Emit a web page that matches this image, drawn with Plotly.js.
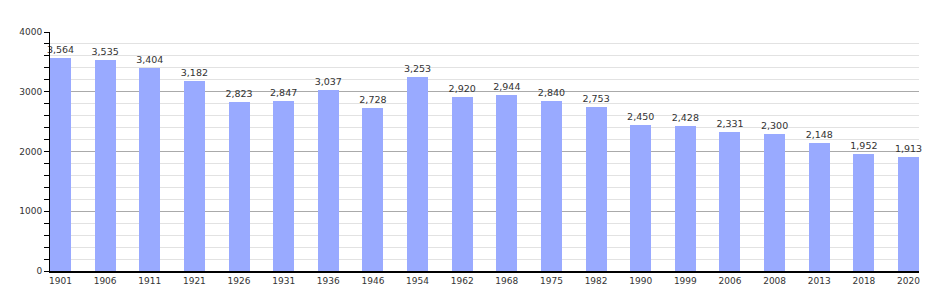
<!DOCTYPE html>
<html><head><meta charset="utf-8">
<script src="https://cdn.plot.ly/plotly-3.0.1.min.js"></script>
<style>body{margin:0;background:#fff}#c{width:950px;height:300px}</style>
</head><body><div id="c"></div>
<script>
const years = ["1901","1906","1911","1921","1926","1931","1936","1946","1954","1962","1968","1975","1982","1990","1999","2006","2008","2013","2018","2020"];
const population = [3564,3535,3404,3182,2823,2847,3037,2728,3253,2920,2944,2840,2753,2450,2428,2331,2300,2148,1952,1913];
const yTicks = [0,1000,2000,3000,4000];

const trace = {
  type: 'bar', x: years, y: population, width: 0.47,
  marker: {color: '#99aaff'},
  text: population.map(v => v.toLocaleString('en-US')),
  textposition: 'outside', cliponaxis: false, constraintext: 'none',
  textfont: {family: 'DejaVu Sans', size: 9.5, color: '#333'},
  hoverinfo: 'x+y'
};
const layout = {
  width: 950, height: 300,
  margin: {l: 50, r: 31, t: 32, b: 29},
  paper_bgcolor: '#fff', plot_bgcolor: '#fff',
  showlegend: false, bargap: 0,
  font: {family: 'DejaVu Sans', size: 9, color: '#333'},
  xaxis: {type: 'category', range: [-0.235, 19.235], showgrid: false, zeroline: false,
    showline: true, linecolor: '#000', linewidth: 2, ticks: '', tickfont: {size: 9, color: '#333'}},
  yaxis: {range: [0, 4000], tickvals: yTicks, ticktext: yTicks.map(String), showline: true, linecolor: '#000', linewidth: 1,
    ticks: 'outside', ticklen: 5, tickcolor: '#000', gridcolor: '#aaa', gridwidth: 1, zeroline: false,
    tickfont: {size: 9, color: '#333'},
    minor: {dtick: 200, tick0: 0, ticks: 'outside', ticklen: 5, tickcolor: '#000', showgrid: true, gridcolor: '#e2e2e2', gridwidth: 1}}
};
Plotly.newPlot('c', [trace], layout, {displayModeBar: false, staticPlot: true});
</script></body></html>
